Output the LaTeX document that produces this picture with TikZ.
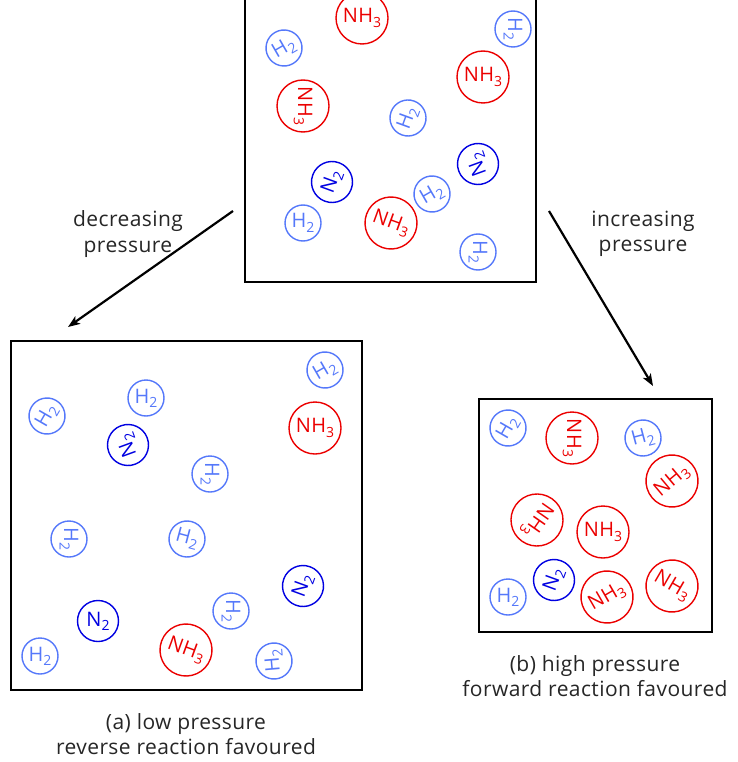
\documentclass[tikz,border=0pt]{standalone}
\usepackage{fontspec}
\setmainfont{Open Sans}[LetterSpace=2]
\usetikzlibrary{arrows.meta}
\definecolor{hblue}{RGB}{85,120,250}
\definecolor{nblue}{RGB}{0,0,225}
\definecolor{ared}{RGB}{235,0,0}
\newcommand\mysub[1]{\raisebox{-0.4ex}{\fontsize{14}{14}\selectfont #1}}
\tikzset{
  mol/.style={circle, inner sep=0pt, line width=1.4pt, font=\fontsize{20}{20}\selectfont},
  hh/.style={mol, draw=hblue, text=hblue, minimum size=36pt},
  nn/.style={mol, draw=nblue, text=nblue, minimum size=41pt},
  am/.style={mol, draw=ared, text=ared, minimum size=52pt},
  frame/.style={draw=black, line width=1.6pt},
  arr/.style={line width=2.2pt, -{Stealth[length=12pt,width=9pt,inset=3pt]}},
  lbl/.style={align=center, font=\fontsize{21}{25.5}\selectfont, text=black!85}
}
\newcommand\Hh{H\mysub{2}}
\newcommand\Nn{N\mysub{2}}
\newcommand\Am{NH\mysub{3}}
\begin{document}
\begin{tikzpicture}[x=1pt,y=-1pt]
\useasboundingbox (0,0) rectangle (737,762);
% frames
\draw[frame] (245,-10) rectangle (536,282);
\node[frame, minimum width=351pt, minimum height=349pt, inner sep=0pt] (boxA) at (186.5,515.5) {};
\node[frame, minimum width=233pt, minimum height=233pt, inner sep=0pt] (boxB) at (595.5,515.5) {};
% top box molecules
\node[am] (t1) at (362,18) {\Am};
\node[hh, rotate=30] (t2) at (284,48) {\Hh};
\node[hh, rotate=-90] (t3) at (513,29) {\Hh};
\node[am] (t4) at (483,77) {\Am};
\node[am, rotate=-90] (t5) at (303,106) {\Am};
\node[hh, rotate=70] (t6) at (408,118) {\Hh};
\node[nn, rotate=110] (t7) at (478,164) {\Nn};
\node[nn, rotate=70] (t8) at (332,182) {\Nn};
\node[hh, rotate=30] (t9) at (432,194) {\Hh};
\node[hh] (t10) at (303,223) {\Hh};
\node[am, rotate=-20] (t11) at (391,223) {\Am};
\node[hh, rotate=-90] (t12) at (478,252) {\Hh};
% box A molecules
\node[hh, rotate=30] (a1) at (325,370) {\Hh};
\node[hh] (a2) at (146,398) {\Hh};
\node[hh, rotate=60] (a3) at (47,416) {\Hh};
\node[am] (a4) at (315,428) {\Am};
\node[nn, rotate=110] (a5) at (128,445) {\Nn};
\node[hh, rotate=-90] (a6) at (210,474) {\Hh};
\node[hh, rotate=-90] (a7) at (69,539) {\Hh};
\node[hh, rotate=-15] (a8) at (187,539) {\Hh};
\node[nn, rotate=70] (a9) at (303,586) {\Nn};
\node[nn] (a10) at (98,621) {\Nn};
\node[hh, rotate=-90] (a11) at (231,611) {\Hh};
\node[am, rotate=-20] (a12) at (186,650) {\Am};
\node[hh] (a13) at (40,656) {\Hh};
\node[hh, rotate=95] (a14) at (274,661) {\Hh};
% box B molecules
\node[hh, rotate=60] (b1) at (508,428) {\Hh};
\node[am, rotate=-90] (b2) at (572,438) {\Am};
\node[hh, rotate=15] (b3) at (643,438) {\Hh};
\node[am, rotate=40] (b4) at (672,481) {\Am};
\node[am, rotate=-125] (b5) at (537,520) {\Am};
\node[am] (b6) at (603,532) {\Am};
\node[nn, rotate=70] (b7) at (554,580) {\Nn};
\node[hh] (b8) at (508,597) {\Hh};
\node[am, rotate=30] (b9) at (607,597) {\Am};
\node[am, rotate=-30] (b10) at (672,586) {\Am};
% arrows
\coordinate (lS) at (233,211);
\coordinate (lE) at (68,327);
\coordinate (rS) at (549,211);
\coordinate (rE) at (653,386);
\draw[arr] (lS) -- (lE);
\draw[arr] (rS) -- (rE);
\node[lbl] (dec) at (128,234) {decreasing\\pressure};
\node[lbl] (inc) at (643,234) {increasing\\pressure};
\node[lbl] (capA) at (186,734) {(a) low pressure\\reverse reaction favoured};
\node[lbl] (capB) at (595,676) {(b) high pressure\\forward reaction favoured};
\end{tikzpicture}
\end{document}
